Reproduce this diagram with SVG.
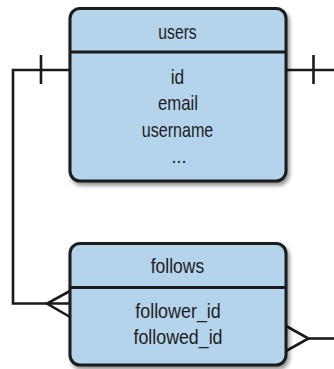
<svg xmlns="http://www.w3.org/2000/svg" width="334" height="369" viewBox="0 0 334 369">
<style>
.box{fill:#b3d4ea;stroke:#1a1a1a;stroke-width:3}
.div{stroke:#1a1a1a;stroke-width:3}
.ln{fill:none;stroke:#1a1a1a;stroke-width:2.6;stroke-linejoin:miter}
text{font-family:"Liberation Sans",Arial,sans-serif;font-size:21px;fill:#1f1c1d;text-anchor:middle}
</style>
<defs>
<filter id="sh" x="-10%" y="-10%" width="130%" height="130%">
<feGaussianBlur in="SourceAlpha" stdDeviation="2"/>
<feOffset dx="2" dy="3" result="b"/>
<feComponentTransfer><feFuncA type="linear" slope="0.45"/></feComponentTransfer>
<feMerge><feMergeNode/><feMergeNode in="SourceGraphic"/></feMerge>
</filter>
</defs>
<g id="connectors">
<path class="ln" d="M70,70 H13 V303.5 H70"/>
<path class="ln" d="M41,55 V84"/>
<path class="ln" d="M70,291 L47,303.5 L70,317"/>
<path class="ln" d="M286,70 H334"/>
<path class="ln" d="M313.5,55 V84"/>
<path class="ln" d="M286,326 L308.5,338.5 L286,351"/>
<path class="ln" d="M308.5,338.5 H334"/>
</g>
<g id="users">
<rect class="box" x="70" y="8.5" width="216" height="172.5" rx="10" filter="url(#sh)"/>
<line class="div" x1="70" y1="52" x2="286" y2="52"/>
<text x="177.5" y="39" textLength="38.5" lengthAdjust="spacingAndGlyphs">users</text>
<text x="177.5" y="83.5" textLength="13.5" lengthAdjust="spacingAndGlyphs">id</text>
<text x="178" y="110" textLength="40" lengthAdjust="spacingAndGlyphs">email</text>
<text x="177.5" y="136.5" textLength="71.5" lengthAdjust="spacingAndGlyphs">username</text>
<text x="179" y="163" textLength="15" lengthAdjust="spacingAndGlyphs">...</text>
</g>
<g id="follows">
<rect class="box" x="70" y="243.5" width="216" height="121.5" rx="10" filter="url(#sh)"/>
<line class="div" x1="70" y1="287.5" x2="286" y2="287.5"/>
<text x="177.5" y="273" textLength="53.5" lengthAdjust="spacingAndGlyphs">follows</text>
<text x="178" y="317.5" textLength="85.5" lengthAdjust="spacingAndGlyphs">follower_id</text>
<text x="178" y="344" textLength="89" lengthAdjust="spacingAndGlyphs">followed_id</text>
</g>
</svg>
